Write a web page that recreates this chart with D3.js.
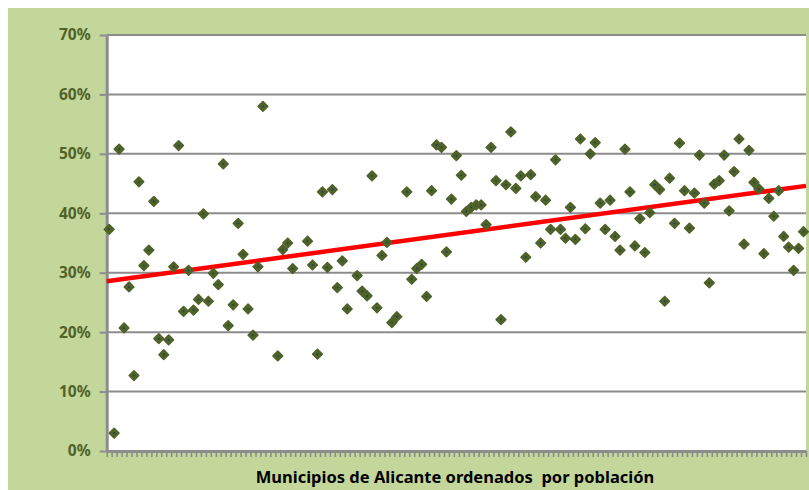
<!DOCTYPE html>
<html>
<head>
<meta charset="utf-8">
<script src="https://cdn.jsdelivr.net/npm/d3@7"></script>
<style>
  body { margin: 0; background: #fff; }
  svg { display: block; }
</style>
</head>
<body>
<div id="chart"></div>
<script>
// Share (%) per municipality, municipalities ordered by population (null = no value)
const shares = [
  37.3, 3.0, 50.8, 20.7, 27.6, 12.7, 45.3, 31.2, 33.8, 42.0,
  18.9, 16.2, 18.7, 31.0, 51.4, 23.5, 30.4, 23.7, 25.5, 39.9,
  25.2, 29.9, 28.0, 48.3, 21.1, 24.6, 38.3, 33.1, 23.9, 19.5,
  31.0, 58.0, null, null, 16.0, 33.9, 35.0, 30.7, null, null,
  35.3, 31.3, 16.3, 43.6, 30.9, 44.0, 27.5, 32.0, 23.9, null,
  29.5, 26.9, 26.1, 46.3, 24.1, 32.9, 35.1, 21.6, 22.6, null,
  43.6, 28.9, 30.7, 31.4, 26.0, 43.8, 51.5, 51.1, 33.5, 42.4,
  49.7, 46.4, 40.3, 41.0, 41.4, 41.4, 38.1, 51.1, 45.5, 22.1,
  44.8, 53.7, 44.2, 46.3, 32.6, 46.5, 42.8, 35.0, 42.2, 37.3,
  49.0, 37.3, 35.8, 41.0, 35.6, 52.5, 37.4, 50.0, 51.9, 41.7,
  37.3, 42.2, 36.1, 33.8, 50.8, 43.6, 34.5, 39.1, 33.4, 40.1,
  44.8, 44.0, 25.2, 45.9, 38.3, 51.8, 43.8, 37.5, 43.4, 49.8,
  41.7, 28.3, 44.9, 45.5, 49.8, 40.4, 47.0, 52.5, 34.8, 50.6,
  45.2, 44.1, 33.2, 42.5, 39.5, 43.8, 36.1, 34.3, 30.4, 34.1,
  36.9
];
const municipios = d3.range(1, shares.length + 1);   // rank by population
const yTicks = [0, 0.1, 0.2, 0.3, 0.4, 0.5, 0.6, 0.7];
const xTitle = "Municipios de Alicante ordenados  por población";

const width = 809, height = 490;
const plot = { left: 106.7, right: 806, top: 35, bottom: 451 };

const green = "#4f6228";
const grid = "#8c8c8c";
const font = "'Noto Sans', 'Liberation Sans', Arial, sans-serif";

const svg = d3.select("#chart").append("svg")
  .attr("width", width)
  .attr("height", height);

// chart area background
svg.append("rect")
  .attr("x", 8).attr("y", 8)
  .attr("width", width - 8).attr("height", height - 8)
  .attr("fill", "#c4d79b");

svg.append("rect")
  .attr("x", plot.left).attr("y", plot.top)
  .attr("width", plot.right - plot.left).attr("height", plot.bottom - plot.top)
  .attr("fill", "#fff");

const x = d3.scaleBand()
  .domain(municipios)
  .range([plot.left, plot.right])
  .padding(0);

const y = d3.scaleLinear()
  .domain([0, 0.7])
  .range([plot.bottom, plot.top]);

// horizontal gridlines
svg.append("g")
  .selectAll("line")
  .data(yTicks.filter(d => d > 0))
  .join("line")
  .attr("x1", plot.left).attr("x2", plot.right)
  .attr("y1", d => y(d)).attr("y2", d => y(d))
  .attr("stroke", grid)
  .attr("stroke-width", 2);

// y axis
const yAxis = svg.append("g")
  .attr("transform", `translate(${plot.left},0)`)
  .call(d3.axisLeft(y).tickValues(yTicks).tickFormat(d3.format(".0%")).tickSize(7).tickSizeOuter(0).tickPadding(9));

yAxis.select(".domain").attr("stroke", grid).attr("stroke-width", 3);
yAxis.selectAll(".tick line").attr("stroke", grid).attr("stroke-width", 2);
yAxis.selectAll(".tick text")
  .attr("fill", green)
  .style("font-family", font)
  .style("font-weight", "bold")
  .style("font-size", "15.5px");

// x axis: one tick at every category boundary
const xEdges = d3.scaleLinear()
  .domain([0, municipios.length])
  .range([plot.left, plot.right]);

const xAxis = svg.append("g")
  .attr("transform", `translate(0,${plot.bottom})`)
  .call(d3.axisBottom(xEdges).tickValues(d3.range(0, municipios.length + 1)).tickFormat("").tickSize(6).tickSizeOuter(0));

xAxis.select(".domain").attr("stroke", grid).attr("stroke-width", 3);
xAxis.selectAll(".tick line").attr("stroke", grid).attr("stroke-width", 1.6);

// linear trend (least squares on rank)
const pts = shares.map((v, i) => ({ i, v })).filter(d => d.v != null);
const mx = d3.mean(pts, d => d.i), my = d3.mean(pts, d => d.v);
const slope = d3.sum(pts, d => (d.i - mx) * (d.v - my)) / d3.sum(pts, d => (d.i - mx) ** 2);
const intercept = my - slope * mx;

// trend line across the plot (drawn under the markers)
const trendX = d3.scaleLinear().domain([-0.5, municipios.length - 0.5]).range([plot.left, plot.right]);
svg.append("line")
  .attr("x1", trendX(-0.5)).attr("x2", trendX(municipios.length - 0.5))
  .attr("y1", y((intercept + slope * -0.5) / 100))
  .attr("y2", y((intercept + slope * (municipios.length - 0.5)) / 100))
  .attr("stroke", "#ff0000")
  .attr("stroke-width", 4.5);

// markers
const diamond = d3.symbol().type(d3.symbolSquare).size(46);
const marks = svg.append("g")
  .selectAll("g")
  .data(pts)
  .join("g")
  .attr("transform", d => `translate(${x(municipios[d.i]) + x.bandwidth() / 2},${y(d.v / 100)})`);

marks.append("path")
  .attr("d", diamond)
  .attr("transform", "rotate(45)")
  .attr("fill", green)
  .attr("stroke", green)
  .attr("stroke-width", 1.6)
  .attr("stroke-linejoin", "round");

marks.append("circle")
  .attr("r", 0.9)
  .attr("fill", "#1f3864");

// x title
svg.append("text")
  .attr("x", 455)
  .attr("y", 483)
  .attr("text-anchor", "middle")
  .style("white-space", "pre")
  .style("font-family", font)
  .style("font-weight", "bold")
  .style("font-size", "16.5px")
  .attr("fill", "#000")
  .text(xTitle);
</script>
</body>
</html>
